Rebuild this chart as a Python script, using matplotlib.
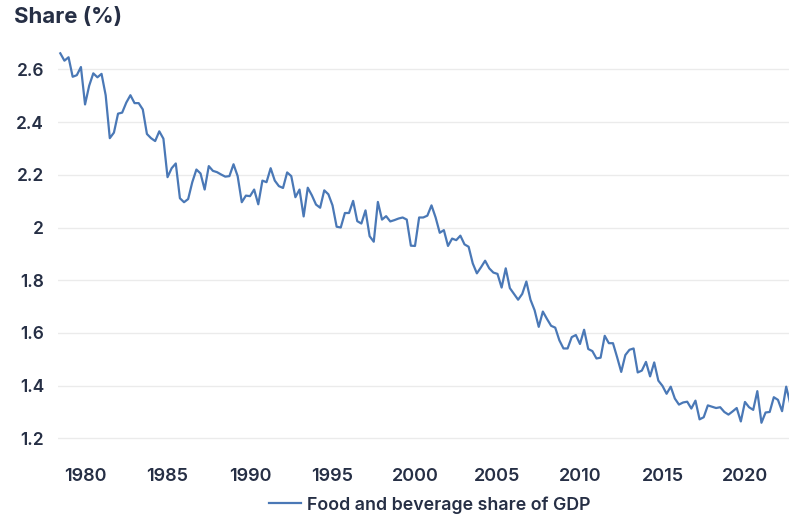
import numpy as np
import matplotlib
matplotlib.use("Agg")
import matplotlib.pyplot as plt
from matplotlib.ticker import FuncFormatter

# quarterly series, first quarter is 1978 Q3
start_year = 1978.5
share = [
    2.661, 2.633, 2.646, 2.572, 2.578, 2.609, 2.467, 2.538, 2.585, 2.570,
    2.583, 2.502, 2.339, 2.360, 2.432, 2.436, 2.474, 2.502, 2.472, 2.472,
    2.448, 2.355, 2.339, 2.328, 2.365, 2.337, 2.191, 2.225, 2.243, 2.111,
    2.096, 2.108, 2.172, 2.220, 2.205, 2.144, 2.233, 2.215, 2.210, 2.201,
    2.193, 2.195, 2.240, 2.195, 2.096, 2.121, 2.119, 2.144, 2.088, 2.178,
    2.172, 2.225, 2.178, 2.157, 2.150, 2.209, 2.195, 2.115, 2.144, 2.042,
    2.151, 2.122, 2.087, 2.075, 2.141, 2.126, 2.084, 2.003, 2.000, 2.055,
    2.055, 2.101, 2.024, 2.015, 2.065, 1.967, 1.946, 2.097, 2.030, 2.043,
    2.023, 2.028, 2.034, 2.038, 2.030, 1.931, 1.930, 2.038, 2.038, 2.045,
    2.084, 2.038, 1.980, 1.990, 1.930, 1.958, 1.952, 1.969, 1.936, 1.927,
    1.864, 1.826, 1.849, 1.874, 1.845, 1.829, 1.824, 1.772, 1.845, 1.770,
    1.748, 1.726, 1.748, 1.795, 1.726, 1.686, 1.623,
    1.681, 1.653, 1.627, 1.620, 1.572, 1.541, 1.541, 1.584, 1.592, 1.558,
    1.612, 1.539, 1.531, 1.503, 1.506, 1.589, 1.561, 1.561, 1.508, 1.452,
    1.516, 1.536, 1.541, 1.450, 1.457, 1.490, 1.435, 1.488, 1.419, 1.399,
    1.369, 1.396, 1.351, 1.328, 1.336, 1.339, 1.313, 1.343, 1.272, 1.280,
    1.325, 1.320, 1.315, 1.318, 1.300, 1.290, 1.302, 1.315, 1.264, 1.338,
    1.318, 1.308, 1.379, 1.259, 1.298, 1.300, 1.356, 1.346, 1.303, 1.396,
    1.330,
]
year_ticks = [1980, 1985, 1990, 1995, 2000, 2005, 2010, 2015, 2020]
share_ticks = [1.2, 1.4, 1.6, 1.8, 2.0, 2.2, 2.4, 2.6]
series_name = "Food and beverage share of GDP"

text_col = "#262f45"
line_col = "#4a78b6"
plt.rcParams["font.family"] = ["Inter", "DejaVu Sans"]

t = start_year + 0.25 * np.arange(len(share))

fig = plt.figure(figsize=(7.89, 5.21), dpi=100)
ax = fig.add_axes([0.0735, 0.1334, 0.9265, 0.784])
ax.plot(t, share, color=line_col, lw=1.6, label=series_name)

ax.set_xlim(1978.36, 2022.67)
ax.set_ylim(1.15, 2.7)
ax.set_xticks(year_ticks)
ax.set_yticks(share_ticks)
ax.yaxis.set_major_formatter(FuncFormatter(lambda v, p: f"{v:g}"))
ax.grid(axis="y", color="#ebebeb", lw=1)
ax.set_axisbelow(True)
for s in ax.spines.values():
    s.set_visible(False)
ax.tick_params(axis="x", length=0, labelsize=13, labelcolor=text_col, pad=12)
ax.tick_params(axis="y", length=0, labelsize=12.5, labelcolor=text_col, pad=10)
for lab in ax.get_xticklabels() + ax.get_yticklabels():
    lab.set_fontweight("semibold")

fig.text(0.018, 0.967, "Share (%)", fontsize=16, fontweight="bold",
         color=text_col, va="center", ha="left")

leg = fig.legend(loc="center", bbox_to_anchor=(0.545, 0.031), frameon=False,
                 handlelength=1.8, fontsize=12.8, handletextpad=0.35)
for txt in leg.get_texts():
    txt.set_color(text_col)
    txt.set_fontweight("semibold")

fig.savefig("out.png", dpi=100)
